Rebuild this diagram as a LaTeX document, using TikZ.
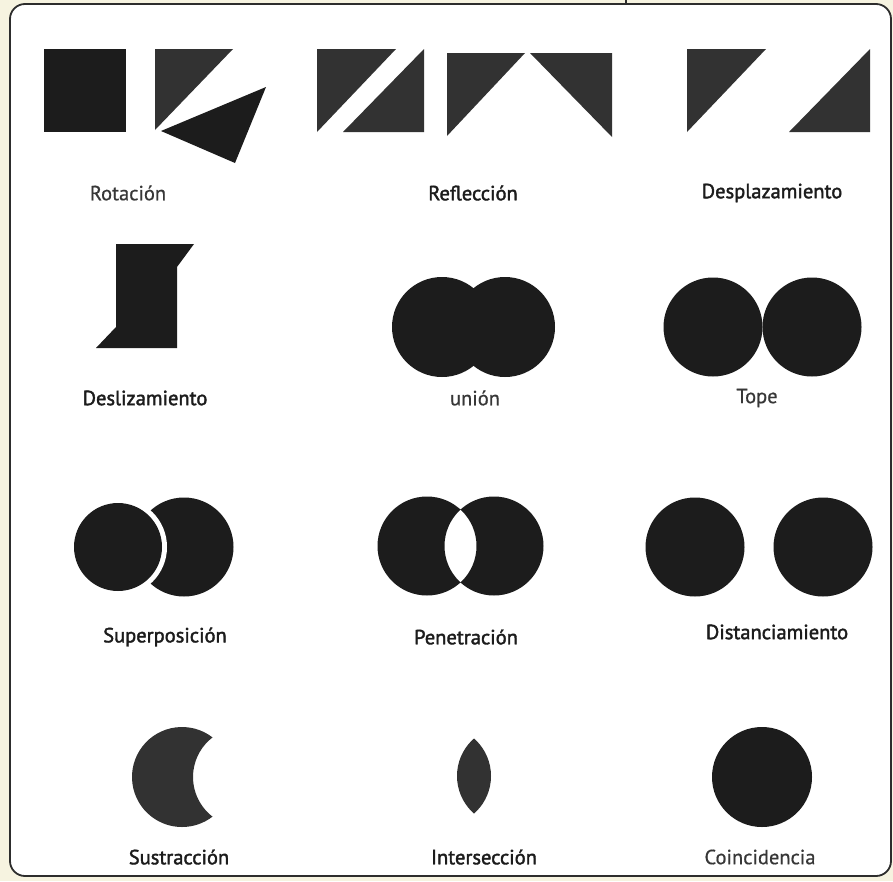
\documentclass[tikz,border=0pt]{standalone}
\usepackage{fontspec}
\setmainfont{PT Sans}
\newfontfamily\semibold[FakeBold=1.8]{PT Sans}
\newfontfamily\lightsans[FakeBold=0.6]{PT Sans}
\definecolor{paper}{RGB}{246,243,224}
\definecolor{framegray}{RGB}{45,45,45}
\definecolor{inkdark}{RGB}{28,28,28}
\definecolor{inkmid}{RGB}{50,50,50}
\definecolor{textgray}{RGB}{55,55,55}
\tikzset{
	lbl/.style={font=\fontsize{20.5}{24}\selectfont\semibold, text=inkdark},
	lbllight/.style={font=\fontsize{20.5}{24}\selectfont\lightsans, text=textgray}
}
\begin{document}
\begin{tikzpicture}[x=1pt, y=-1pt]
	\useasboundingbox (0, 0) rectangle (893, 881);
	\fill[paper] (0, 0) rectangle (893, 881);
	\draw[framegray, line width=1.8, rounded corners=15, fill=white] (10, 4) rectangle (891, 876);
	\draw[framegray, line width=1.8] (626, 0) -- (626, 4);
	% row 1
	\fill[inkdark] (44, 49) rectangle (126, 132);
	\fill[inkmid] (155, 49) -- (233, 49) -- (155, 130) -- cycle;
	\fill[inkdark] (161, 131) -- (266, 87) -- (235, 163) -- cycle;
	\fill[inkmid] (317, 49) -- (396, 49) -- (317, 132) -- cycle;
	\fill[inkmid] (424, 49) -- (424, 132) -- (343, 132) -- cycle;
	\fill[inkmid] (447, 53) -- (525, 53) -- (447, 136) -- cycle;
	\fill[inkmid] (530, 53) -- (612, 53) -- (612, 137) -- cycle;
	\fill[inkmid] (687, 49) -- (766, 49) -- (687, 132) -- cycle;
	\fill[inkmid] (870, 49) -- (870, 132) -- (789, 132) -- cycle;
	\node[lbllight] (rot) at (128, 193) {Rotación};
	\node[lbl] (refl) at (473, 193) {Reflección};
	\node[lbl] (despl) at (772, 193) {Desplazamiento};
	% row 2
	\fill[inkdark] (116, 244) -- (194, 244) -- (177, 267) -- (177, 348) -- (96, 348) -- (116, 327) -- cycle;
	\fill[inkdark] (442, 327) circle (50);
	\fill[inkdark] (505, 327) circle (50);
	\foreach \cx in {713, 812}{
		\fill[inkdark] (\cx, 327) circle (49.5);
	}
	\node[lbl] (desl) at (145, 398) {Deslizamiento};
	\node[lbllight] (union) at (475, 398) {unión};
	\node[lbllight] (tope) at (757, 398) {Tope};
	% row 3
	\fill[inkdark] (184, 547) circle (49.5);
	\fill[white] (118, 547) circle (49);
	\fill[inkdark] (118, 547) circle (44);
	\fill[inkdark, even odd rule] (427, 546) circle (49.5) (494, 546) circle (49.5);
	\foreach \cx in {695, 823}{
		\fill[inkdark] (\cx, 547) circle (49.5);
	}
	\node[lbl] (super) at (165, 637) {Superposición};
	\node[lbl] (pene) at (466, 637) {Penetración};
	\node[lbl] (dist) at (777, 632) {Distanciamiento};
	% row 4
	\fill[inkmid] (182, 777) ++(-52.4:50) arc[start angle=-52.4, end angle=-307.6, radius=50]
		arc[start angle=127.6, end angle=232.4, radius=50] -- cycle;
	\begin{scope}
		\clip (441, 776) circle (50);
		\fill[inkmid] (507, 776) circle (50);
	\end{scope}
	\fill[inkdark] (762, 777) circle (50);
	\node[lbl] (sust) at (179, 857) {Sustracción};
	\node[lbl] (inter) at (484, 857) {Intersección};
	\node[lbllight] (coin) at (760, 857) {Coincidencia};
\end{tikzpicture}
\end{document}
